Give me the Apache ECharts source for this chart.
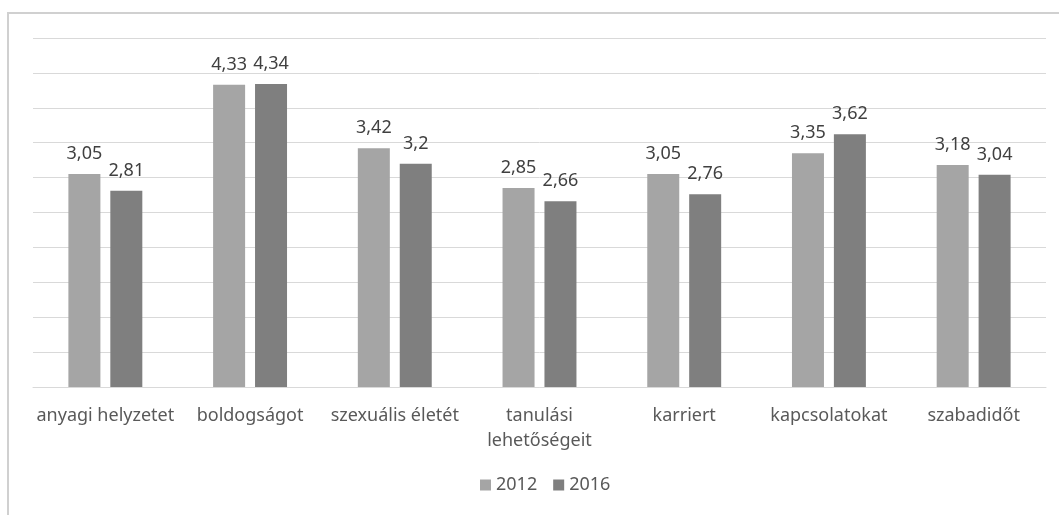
<!DOCTYPE html>
<html>
<head>
<meta charset="utf-8">
<script src="https://cdn.jsdelivr.net/npm/echarts@6/dist/echarts.min.js"></script>
<style>
  html, body { margin: 0; padding: 0; background: #fff; }
  #chart { width: 1059px; height: 515px; }
</style>
</head>
<body>
<div id="chart"></div>
<script>
// kategóriák és értékek
const categories = ["anyagi helyzetet", "boldogságot", "szexuális életét", "tanulási\nlehetőségeit", "karriert", "kapcsolatokat", "szabadidőt"];
const values2012 = [3.05, 4.33, 3.42, 2.85, 3.05, 3.35, 3.18];
const values2016 = [2.81, 4.34, 3.2, 2.66, 2.76, 3.62, 3.04];
const seriesNames = ["2012", "2016"];

const chart = echarts.init(document.getElementById("chart"));

const labelStyle = {
  show: true,
  position: "top",
  distance: 11,
  color: "#404040",
  fontSize: 18,
  fontFamily: "Noto Sans",
  formatter: (p) => String(p.value).replace(".", ","), // tizedesvessző
};

chart.setOption({
  animation: false,
  textStyle: { fontFamily: "Noto Sans" },
  graphic: [
    {
      type: "rect",
      shape: { x: 8, y: 13, width: 1070, height: 520 },
      style: { fill: "none", stroke: "#d0d0d0", lineWidth: 2 },
      silent: true,
    },
  ],
  grid: { left: 33, right: 13, top: 38, bottom: 128 },
  legend: {
    data: seriesNames,
    bottom: 16,
    left: 475,
    itemWidth: 11,
    itemHeight: 11,
    itemGap: 16,
    icon: "rect",
    textStyle: { color: "#595959", fontSize: 18 },
  },
  xAxis: {
    type: "category",
    data: categories,
    axisLine: { lineStyle: { color: "#d9d9d9" } },
    axisTick: { show: false },
    axisLabel: { color: "#595959", fontSize: 18, margin: 16, lineHeight: 25, interval: 0 },
  },
  yAxis: {
    type: "value",
    min: 0,
    max: 5,
    interval: 0.5,
    axisLabel: { show: false },
    axisLine: { show: false },
    axisTick: { show: false },
    splitLine: { lineStyle: { color: "#d9d9d9" } },
  },
  series: [
    {
      name: seriesNames[0],
      type: "bar",
      data: values2012,
      barWidth: 32,
      barGap: "31%",
      itemStyle: { color: "#a5a5a5" },
      label: labelStyle,
    },
    {
      name: seriesNames[1],
      type: "bar",
      data: values2016,
      barWidth: 32,
      itemStyle: { color: "#7f7f7f" },
      label: labelStyle,
    },
  ],
});
</script>
</body>
</html>
